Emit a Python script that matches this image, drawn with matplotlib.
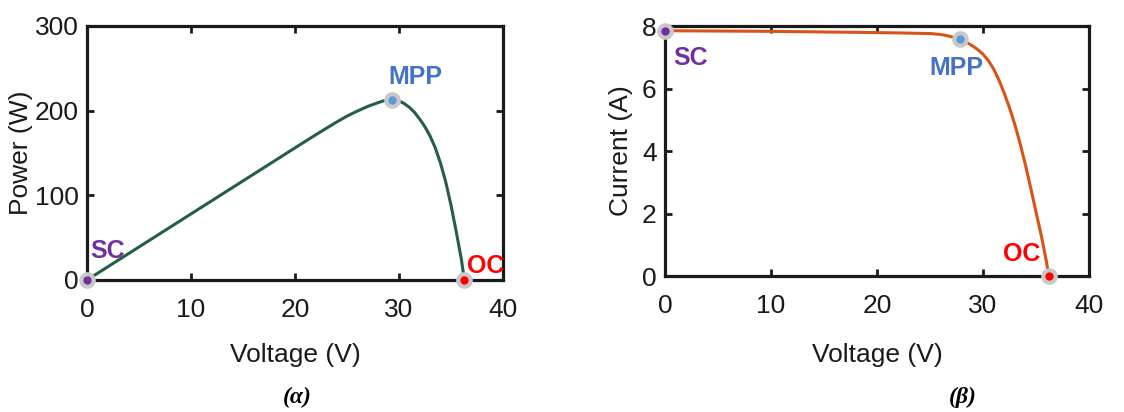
import matplotlib
matplotlib.use("Agg")
import matplotlib.pyplot as plt
from matplotlib import font_manager as fm

names = {f.name for f in fm.fontManager.ttflist}
TICKFONT = ["Liberation Sans Narrow", "Liberation Sans", "DejaVu Sans"]
TICKFONT = [f for f in TICKFONT if f in names] or ["DejaVu Sans"]
plt.rcParams['font.family'] = TICKFONT

# P-V data
pv_voltage = [0, 5, 10, 15, 20, 22, 24, 25, 26, 27, 28, 28.5, 29, 29.3, 29.7, 30, 30.5, 31,
              31.5, 32, 32.5, 33, 33.5, 34, 34.5, 35, 35.5, 36, 36.3]
pv_power = [0, 39, 78, 117, 156, 171.5, 186.5, 193.5, 199.5, 205, 209.5, 211.5, 212.7, 213,
            212.5, 211.5, 208.5, 204, 198, 190, 181, 170, 156, 138, 116, 89, 58, 25, 0]
pv_points = {"SC": (0, 0), "MPP": (29.3, 213), "OC": (36.3, 0)}

# I-V data
iv_voltage = [0, 5, 10, 15, 18, 22, 25, 26, 26.5, 27, 27.5, 27.8, 28.2, 28.6, 29, 29.5, 30,
              30.5, 31, 31.5, 32, 32.5, 33, 33.5, 34, 34.5, 35, 35.5, 36, 36.2]
iv_current = [7.85, 7.84, 7.83, 7.81, 7.80, 7.78, 7.76, 7.73, 7.70, 7.66, 7.61, 7.57, 7.52,
              7.45, 7.37, 7.25, 7.10, 6.90, 6.63, 6.28, 5.86, 5.39, 4.86, 4.25, 3.57, 2.83,
              2.06, 1.30, 0.45, 0.0]
iv_points = {"SC": (0, 7.84), "MPP": (27.8, 7.57), "OC": (36.2, 0)}

point_colors = {"SC": "#7030A0", "MPP": "#5B9BD5", "OC": "#FF0000"}
label_colors = {"SC": "#7030A0", "MPP": "#4472C4", "OC": "#FF0000"}

fig = plt.figure(figsize=(11.24, 4.12), dpi=100)
ax1 = fig.add_axes([0.0774, 0.3204, 0.370, 0.6165])
ax2 = fig.add_axes([0.5916, 0.330, 0.3772, 0.6068])

def style(ax):
    for s in ax.spines.values():
        s.set_linewidth(2.3)
        s.set_color("#1a1a1a")
    ax.tick_params(direction="in", top=True, right=True, length=5, width=2.0,
                   labelsize=19, colors="#1a1a1a")
    ax.tick_params(axis="x", pad=13)
    ax.tick_params(axis="y", pad=6)
    ax.set_xlim(0, 40)
    ax.set_xticks([0, 10, 20, 30, 40])

def marker(ax, x, y, c):
    ax.plot([x], [y], "o", ms=12, color="#C8C8C8", mec="none", clip_on=False, zorder=5)
    ax.plot([x], [y], "o", ms=6, color=c, mec="none", clip_on=False, zorder=6)

lblfont = dict(fontsize=18, fontweight="bold", family=TICKFONT)

# Left: P-V
style(ax1)
ax1.set_ylim(0, 300)
ax1.set_yticks([0, 100, 200, 300])
ax1.plot(pv_voltage, pv_power, color="#255E45", lw=2.2, zorder=3)
for k, (x, y) in pv_points.items():
    marker(ax1, x, y, point_colors[k])
ax1.text(2.0, 34, "SC", color=label_colors["SC"], ha="center", va="center", **lblfont)
ax1.text(31.6, 240, "MPP", color=label_colors["MPP"], ha="center", va="center", **lblfont)
ax1.text(38.3, 16.5, "OC", color=label_colors["OC"], ha="center", va="center", **lblfont)
ax1.set_xlabel("Voltage (V)", fontsize=19, color="#1a1a1a")
ax1.set_ylabel("Power (W)", fontsize=19, color="#1a1a1a")
ax1.xaxis.set_label_coords(0.5, -0.248)
ax1.yaxis.set_label_coords(-0.130, 0.5)

# Right: I-V
style(ax2)
ax2.set_ylim(0, 8)
ax2.set_yticks([0, 2, 4, 6, 8])
ax2.plot(iv_voltage, iv_current, color="#D95319", lw=2.2, zorder=3)
for k, (x, y) in iv_points.items():
    marker(ax2, x, y, point_colors[k])
ax2.text(2.45, 6.99, "SC", color=label_colors["SC"], ha="center", va="center", **lblfont)
ax2.text(27.45, 6.67, "MPP", color=label_colors["MPP"], ha="center", va="center", **lblfont)
ax2.text(33.7, 0.71, "OC", color=label_colors["OC"], ha="center", va="center", **lblfont)
ax2.set_xlabel("Voltage (V)", fontsize=19, color="#1a1a1a")
ax2.set_ylabel("Current (A)", fontsize=19, color="#1a1a1a")
ax2.xaxis.set_label_coords(0.5, -0.268)
ax2.yaxis.set_label_coords(-0.075, 0.5)

capfont = dict(fontsize=17, fontweight="bold", fontstyle="italic",
               family=["Liberation Serif", "DejaVu Serif"], ha="center", va="center")
fig.text(297 / 1124, 1 - 397 / 412, "(α)", **capfont)
fig.text(963 / 1124, 1 - 397 / 412, "(β)", **capfont)

fig.savefig("out.png", dpi=100)
